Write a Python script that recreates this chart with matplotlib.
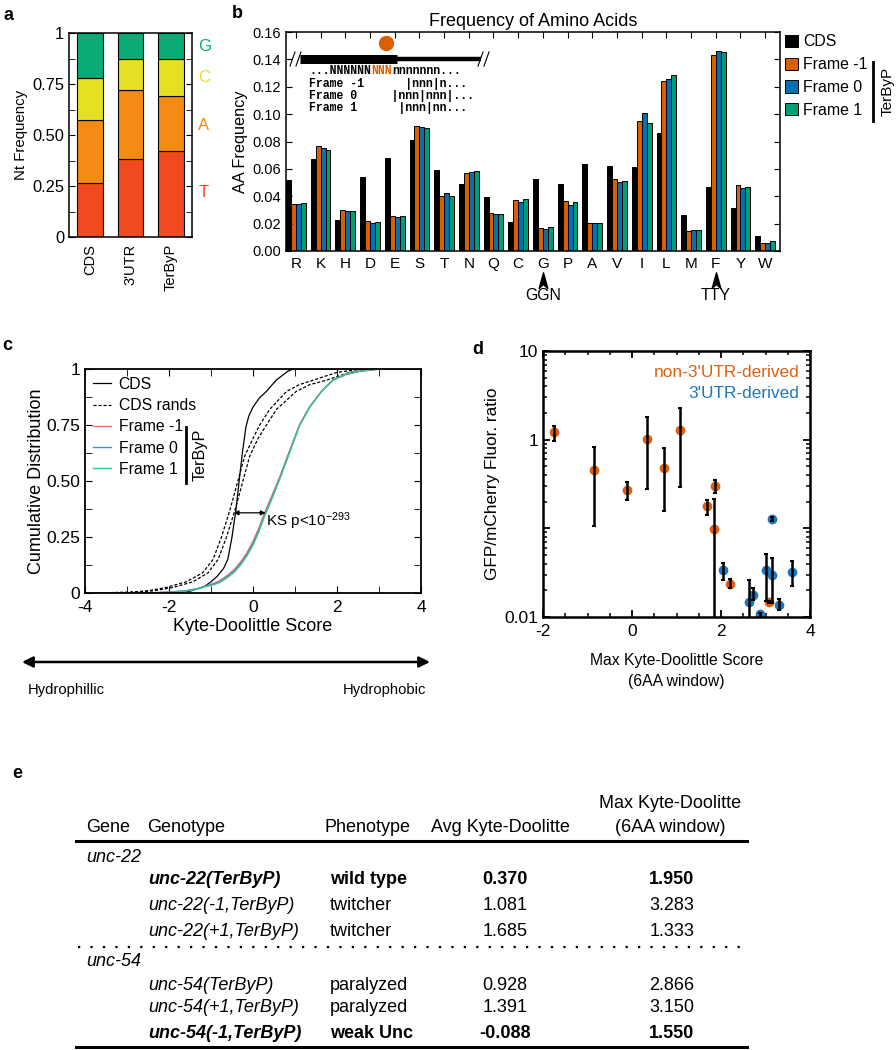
import matplotlib.pyplot as plt
import numpy as np
from matplotlib.lines import Line2D
from matplotlib.patches import Patch
from matplotlib.path import Path
from matplotlib.ticker import MultipleLocator, FixedLocator, NullFormatter, LogLocator, FuncFormatter

plt.rcParams['font.family'] = ['Liberation Sans', 'DejaVu Sans']
plt.rcParams['axes.unicode_minus'] = False
plt.rcParams['mathtext.fontset'] = 'custom'
plt.rcParams['mathtext.rm'] = 'Liberation Sans'
plt.rcParams['mathtext.default'] = 'rm'

# ---- panel a: nucleotide composition
nt_groups = ['CDS', "3'UTR", 'TerByP']
nt_T = [0.265, 0.383, 0.420]
nt_A = [0.308, 0.337, 0.272]
nt_C = [0.204, 0.155, 0.180]
nt_G = [0.223, 0.125, 0.128]

# ---- panel b: amino acid frequencies
aa_labels = ['R', 'K', 'H', 'D', 'E', 'S', 'T', 'N', 'Q', 'C',
             'G', 'P', 'A', 'V', 'I', 'L', 'M', 'F', 'Y', 'W']
aa_cds = [0.0518, 0.0669, 0.0230, 0.0542, 0.0677, 0.0813, 0.0589, 0.0493, 0.0396, 0.0210,
          0.0523, 0.0487, 0.0634, 0.0624, 0.0612, 0.0859, 0.0262, 0.0470, 0.0316, 0.0110]
aa_fm1 = [0.0342, 0.0767, 0.0300, 0.0217, 0.0256, 0.0911, 0.0403, 0.0572, 0.0274, 0.0369,
          0.0169, 0.0365, 0.0206, 0.0529, 0.0950, 0.1243, 0.0144, 0.1429, 0.0480, 0.0061]
aa_f0 = [0.0342, 0.0750, 0.0290, 0.0203, 0.0247, 0.0906, 0.0423, 0.0574, 0.0271, 0.0357,
         0.0159, 0.0338, 0.0206, 0.0504, 0.1008, 0.1258, 0.0157, 0.1461, 0.0463, 0.0061]
aa_f1 = [0.0349, 0.0738, 0.0290, 0.0212, 0.0256, 0.0901, 0.0400, 0.0581, 0.0271, 0.0379,
         0.0176, 0.0355, 0.0206, 0.0511, 0.0935, 0.1287, 0.0152, 0.1456, 0.0468, 0.0073]

# ---- panel c: cumulative Kyte-Doolittle distributions
cds_kd_x = [-4.0, -2.5, -2.0, -1.5, -1.15, -1.0, -0.85, -0.7, -0.6, -0.5, -0.4, -0.33,
            -0.25, -0.17, -0.1, 0.0, 0.15, 0.32, 0.55, 0.83, 0.95, 4.0]
cds_kd_y = [0.0, 0.0, 0.001, 0.008, 0.03, 0.05, 0.075, 0.11, 0.15, 0.25, 0.38, 0.5,
            0.63, 0.74, 0.79, 0.83, 0.87, 0.9, 0.95, 0.99, 1.0, 1.0]
rand_kd_y = [0.0, 0.003, 0.01, 0.025, 0.05, 0.09, 0.15, 0.25, 0.37, 0.5, 0.61, 0.69,
             0.75, 0.82, 0.9, 0.93, 0.95, 0.985, 0.997, 1.0]
rand1_kd_x = [-4.0, -3.0, -2.5, -2.06, -1.59, -1.2, -0.95, -0.75, -0.55, -0.36, -0.2, 0.0,
              0.16, 0.4, 0.8, 1.1, 1.43, 2.0, 2.5, 3.0]
rand2_kd_x = [-4.0, -2.85, -2.35, -1.9, -1.43, -1.07, -0.83, -0.63, -0.43, -0.24, -0.08, 0.12,
              0.32, 0.56, 1.03, 1.35, 1.75, 2.3, 2.8, 3.2]
frame_kd_x = [-4.0, -2.5, -2.0, -1.6, -1.3, -1.15, -0.95, -0.8, -0.6, -0.44, -0.3, -0.15, 0.0,
              0.14, 0.28, 0.45, 0.63, 0.85, 1.11, 1.35, 1.63, 1.9, 2.2, 2.54, 3.0, 4.0]
fm1_kd_y = [0.0, 0.0, 0.004, 0.01, 0.02, 0.03, 0.042, 0.054, 0.08, 0.106, 0.137, 0.178, 0.23,
            0.29, 0.36, 0.435, 0.515, 0.625, 0.752, 0.832, 0.9, 0.95, 0.975, 0.99, 1.0, 1.0]
f0_kd_y = [0.0, 0.0, 0.004, 0.01, 0.02, 0.03, 0.04, 0.05, 0.075, 0.1, 0.13, 0.17, 0.22,
           0.28, 0.35, 0.425, 0.51, 0.62, 0.75, 0.83, 0.9, 0.95, 0.975, 0.99, 1.0, 1.0]
f1_kd_y = [0.0, 0.0, 0.003, 0.009, 0.018, 0.027, 0.036, 0.046, 0.07, 0.094, 0.124, 0.164, 0.213,
           0.274, 0.345, 0.42, 0.505, 0.615, 0.748, 0.83, 0.9, 0.952, 0.977, 0.99, 1.0, 1.0]

# ---- panel d: reporter ratios
non3_x = [-1.75, -0.86, -0.12, 0.33, 0.71, 1.07, 1.69, 1.86, 1.84, 2.20, 3.08]
non3_y = [1.21, 0.45, 0.27, 1.03, 0.48, 1.27, 0.179, 0.298, 0.099, 0.0235, 0.0148]
non3_hi = [1.44, 0.82, 0.33, 1.82, 0.80, 2.30, 0.21, 0.35, 0.212, 0.027, 0.0152]
non3_lo = [0.97, 0.106, 0.21, 0.28, 0.158, 0.29, 0.141, 0.25, 0.005, 0.021, 0.0144]
utr_x = [3.14, 2.04, 2.62, 2.72, 2.87, 3.00, 3.15, 3.30, 3.59]
utr_y = [0.127, 0.0336, 0.0148, 0.0179, 0.0108, 0.0336, 0.0295, 0.0137, 0.0325]
utr_hi = [0.135, 0.041, 0.026, 0.021, 0.0112, 0.052, 0.046, 0.016, 0.043]
utr_lo = [0.12, 0.026, 0.008, 0.0156, 0.0098, 0.015, 0.0144, 0.012, 0.0225]

# ---- panel e: table
genes = ['unc-22', 'unc-54']
genotypes = ['unc-22(TerByP)', 'unc-22(-1,TerByP)', 'unc-22(+1,TerByP)',
             'unc-54(TerByP)', 'unc-54(+1,TerByP)', 'unc-54(-1,TerByP)']
phenotypes = ['wild type', 'twitcher', 'twitcher', 'paralyzed', 'paralyzed', 'weak Unc']
avg_kd = [0.370, 1.081, 1.685, 0.928, 1.391, -0.088]
max_kd = [1.950, 3.283, 1.333, 2.866, 3.150, 1.550]
bold_rows = [0, 5]

W, H = 896, 1050
fig = plt.figure(figsize=(W / 100, H / 100), dpi=100)


def box(l, t, r, b):
    return [l / W, 1 - b / H, (r - l) / W, (b - t) / H]


# ================= a
ax = fig.add_axes(box(69, 33, 192, 237))
xa = np.arange(3)
nt_cols = ['#f04a1e', '#f58b15', '#e6e022', '#0aab77']
bottom = np.zeros(3)
for vals, col in zip([nt_T, nt_A, nt_C, nt_G], nt_cols):
    ax.bar(xa, vals, 0.64, bottom=bottom, color=col, edgecolor='black', lw=0.8)
    bottom += np.array(vals)
ax.set_xlim(-0.52, 2.52)
ax.set_ylim(0, 1)
ax.set_xticks(xa)
ax.set_xticklabels(nt_groups, rotation=90, fontsize=10.5)
ax.yaxis.set_major_locator(FixedLocator([0, 0.25, 0.5, 0.75, 1]))
ax.set_yticklabels(['0', '0.25', '0.50', '0.75', '1'])
ax.yaxis.set_minor_locator(MultipleLocator(0.125))
ax.tick_params(axis='y', which='both', direction='in', right=True, length=4, labelsize=11.8)
ax.tick_params(axis='x', length=0, pad=5)
ax.set_ylabel('Nt Frequency', fontsize=10.8, labelpad=3)
for s in ax.spines.values():
    s.set_linewidth(1.1)
for lab, yy, col in zip(['G', 'C', 'A', 'T'], [0.935, 0.78, 0.545, 0.22], nt_cols[::-1]):
    ax.text(1.05, yy, lab, transform=ax.get_yaxis_transform(), color=col,
            fontsize=12, va='center', ha='left')

# ================= b
ax = fig.add_axes(box(286, 32, 780, 251))
xb = np.arange(len(aa_labels))
b_cols = ['black', '#d95f02', '#0072b2', '#009e73']
b_names = ['CDS', 'Frame -1', 'Frame 0', 'Frame 1']
for k, (vals, col) in enumerate(zip([aa_cds, aa_fm1, aa_f0, aa_f1], b_cols)):
    ax.bar(xb + (k - 1.5) * 0.2, vals, 0.2, color=col, edgecolor='black', lw=0.7)
ax.set_xlim(-0.4, 19.6)
ax.set_ylim(0, 0.16)
ax.set_xticks(xb)
ax.set_xticklabels(aa_labels, fontsize=11)
ax.tick_params(axis='x', bottom=False, top=True, direction='in', length=4, pad=4)
ax.yaxis.set_major_locator(MultipleLocator(0.02))
ax.yaxis.set_major_formatter(FuncFormatter(lambda v, p: '%.2f' % v))
ax.tick_params(axis='y', direction='in', right=True, length=4, labelsize=10.5)
ax.set_ylabel('AA Frequency', fontsize=11.7, labelpad=3)
ax.set_title('Frequency of Amino Acids', fontsize=13, pad=4)
for s in ax.spines.values():
    s.set_linewidth(1.1)
handles = [Patch(facecolor=c, edgecolor='black', lw=0.7) for c in b_cols]
ax.legend(handles, b_names, loc='upper left', bbox_to_anchor=(1.01, 0.99), frameon=False,
          handlelength=0.8, handleheight=0.8, handletextpad=0.35, labelspacing=0.5,
          fontsize=11.4, borderaxespad=0, borderpad=0)


# inset schematic (axes fraction coords)
def fx(px):
    return (px - 286) / 494


def fy(py):
    return (251 - py) / 219


tr = ax.transAxes
ax.plot([fx(300), fx(397)], [fy(59), fy(59)], color='black', lw=6.5, transform=tr,
        solid_capstyle='butt')
ax.plot([fx(397), fx(481)], [fy(59), fy(59)], color='black', lw=3.2, transform=tr,
        solid_capstyle='butt')
for x0 in [290, 296, 478, 484]:
    ax.plot([fx(x0), fx(x0 + 5)], [fy(66), fy(52)], color='black', lw=0.8, transform=tr)
ax.plot([fx(386)], [fy(43)], 'o', color='#d95f02', ms=10, transform=tr)
mono = dict(family='Liberation Mono', fontsize=8.3, fontweight='bold', transform=tr,
            va='center', ha='left')
cw = 0.6 * 8.3 * 100 / 72  # monospace advance in px
ax.text(fx(309), fy(71), '...NNNNNN', color='black', **mono)
ax.text(fx(309 + 9 * cw), fy(71), 'NNN', color='#d95f02', **mono)
ax.text(fx(309 + 12 * cw), fy(71), 'nnnnnnn...', color='black', **mono)
ax.text(fx(309), fy(84), 'Frame -1      |nnn|n...', color='black', **mono)
ax.text(fx(309), fy(96), 'Frame 0     |nnn|nnn|...', color='black', **mono)
ax.text(fx(309), fy(108), 'Frame 1      |nnn|nn...', color='black', **mono)

# codon arrows under G and F
arrow_path = Path([(0, 1), (0.5, -0.8), (0, -0.35), (-0.5, -0.8), (0, 1)],
                  [Path.MOVETO, Path.LINETO, Path.LINETO, Path.LINETO, Path.CLOSEPOLY])
xt = ax.get_xaxis_transform()
for idx, lab in [(aa_labels.index('G'), 'GGN'), (aa_labels.index('F'), 'TTY')]:
    ax.plot([idx], [fy(281)], marker=arrow_path, ms=12.5, color='black', transform=xt,
            clip_on=False)
    ax.text(idx, fy(295), lab, transform=xt, ha='center', va='center', fontsize=11.4)

# ================= c
ax = fig.add_axes(box(85, 369, 421, 593))
ax.plot(cds_kd_x, cds_kd_y, color='black', lw=0.9)
ax.plot(rand1_kd_x, rand_kd_y, color='black', lw=0.9, ls=(0, (2.5, 1.5)))
ax.plot(rand2_kd_x, rand_kd_y, color='black', lw=0.9, ls=(0, (2.5, 1.5)))
ax.plot(frame_kd_x, fm1_kd_y, color='#f2695a', lw=1.0)
ax.plot(frame_kd_x, f0_kd_y, color='#3f8fdc', lw=1.0)
ax.plot(frame_kd_x, f1_kd_y, color='#40c08e', lw=1.0)
ax.set_xlim(-4, 4)
ax.set_ylim(0, 1)
ax.xaxis.set_major_locator(MultipleLocator(2))
ax.xaxis.set_minor_locator(MultipleLocator(1))
ax.yaxis.set_major_locator(FixedLocator([0, 0.25, 0.5, 0.75, 1]))
ax.set_yticklabels(['0', '0.25', '0.50', '0.75', '1'])
ax.yaxis.set_minor_locator(MultipleLocator(0.125))
ax.tick_params(which='both', direction='in', top=True, right=True, length=5, labelsize=12.5)
ax.tick_params(axis='x', pad=5)
ax.set_xlabel('Kyte-Doolittle Score', fontsize=13, labelpad=2)
ax.set_ylabel('Cumulative Distribution', fontsize=13, labelpad=1)
for s in ax.spines.values():
    s.set_linewidth(1.3)
c_handles = [Line2D([], [], color='black', lw=0.9),
             Line2D([], [], color='black', lw=0.9, ls=(0, (2.5, 1.5))),
             Line2D([], [], color='#f2695a', lw=1.0),
             Line2D([], [], color='#3f8fdc', lw=1.0),
             Line2D([], [], color='#40c08e', lw=1.0)]
ax.legend(c_handles, ['CDS', 'CDS rands', 'Frame -1', 'Frame 0', 'Frame 1'],
          loc='upper left', bbox_to_anchor=(0.025, 0.965), frameon=False, fontsize=11.3,
          handlelength=1.1, handletextpad=0.5, labelspacing=0.4, borderaxespad=0,
          borderpad=0)
ax.annotate('', xy=(-0.46, 0.358), xytext=(0.3, 0.358),
            arrowprops=dict(arrowstyle='<|-|>', lw=0.9, color='black', mutation_scale=7,
                            shrinkA=0, shrinkB=0))
ax.text(0.31, 0.32, 'KS p<10$^{-293}$', fontsize=11, ha='left', va='center')

# ================= d
ax = fig.add_axes(box(543, 351, 810, 617))
ax.plot(non3_x, non3_y, 'o', color='#dd6111', ms=6, zorder=2)
ax.plot(utr_x, utr_y, 'o', color='#1f78be', ms=6, zorder=2)
for xs, ys, lo, hi in [(non3_x, non3_y, non3_lo, non3_hi), (utr_x, utr_y, utr_lo, utr_hi)]:
    ys = np.array(ys)
    err = [ys - np.array(lo), np.array(hi) - ys]
    ax.errorbar(xs, ys, yerr=err, fmt='none', ecolor='black', elinewidth=1.8, capsize=1.5,
                capthick=1.5, zorder=3)
ax.set_yscale('log')
ax.set_xlim(-2, 4)
ax.set_ylim(0.01, 10)
ax.set_xticks([-2, 0, 2, 4])
ax.xaxis.set_minor_locator(MultipleLocator(0.5))
ax.set_yticks([0.01, 0.1, 1, 10])
ax.set_yticklabels(['0.01', '', '1', '10'])
ax.yaxis.set_minor_locator(LogLocator(base=10, subs=np.arange(2, 10)))
ax.yaxis.set_minor_formatter(NullFormatter())
ax.tick_params(which='major', direction='in', top=True, right=True, length=5, width=1.3,
               labelsize=12.5)
ax.tick_params(which='minor', direction='in', top=True, right=True, length=3, width=1.1)
ax.tick_params(axis='x', pad=5)
ax.set_ylabel('GFP/mCherry Fluor. ratio', fontsize=12.4, labelpad=3)
ax.set_xlabel('Max Kyte-Doolittle Score\n(6AA window)', fontsize=11.3, labelpad=10,
              linespacing=1.5)
for s in ax.spines.values():
    s.set_linewidth(1.8)
ax.text(0.96, 0.92, "non-3'UTR-derived", color='#dd6111', transform=ax.transAxes,
        ha='right', va='center', fontsize=12.4)
ax.text(0.96, 0.84, "3'UTR-derived", color='#1f78be', transform=ax.transAxes,
        ha='right', va='center', fontsize=12.4)

# ================= overlay in pixel coords
ov = fig.add_axes([0, 0, 1, 1])
ov.set_xlim(0, W)
ov.set_ylim(H, 0)
ov.axis('off')
ov.patch.set_alpha(0)

for lab, px, py in [('a', 3, 15), ('b', 232, 14), ('c', 2, 345), ('d', 472, 350),
                    ('e', 12, 773)]:
    ov.text(px, py, lab, fontsize=13, fontweight='bold', ha='left', va='center')

# TerByP brackets
ov.plot([873, 873], [62, 121], color='black', lw=2)
ov.text(888, 91, 'TerByP', rotation=90, ha='center', va='center', fontsize=11)
ov.plot([186, 186], [427, 483], color='black', lw=2)
ov.text(200, 455, 'TerByP', rotation=90, ha='center', va='center', fontsize=11.6)

# hydrophobicity arrow
ov.annotate('', xy=(22, 662), xytext=(430, 662),
            arrowprops=dict(arrowstyle='<|-|>', lw=1.8, color='black', mutation_scale=16,
                            shrinkA=0, shrinkB=0))
ov.text(28, 690, 'Hydrophillic', fontsize=10.6, ha='left', va='center')
ov.text(426, 690, 'Hydrophobic', fontsize=10.6, ha='right', va='center')

# ================= e: table
fs = 13
ov.text(86, 827, 'Gene', fontsize=fs, va='center')
ov.text(147, 827, 'Genotype', fontsize=fs, va='center')
ov.text(325, 827, 'Phenotype', fontsize=fs, va='center')
ov.text(500, 827, 'Avg Kyte-Doolitte', fontsize=fs, va='center', ha='center')
ov.text(670, 803, 'Max Kyte-Doolitte', fontsize=fs, va='center', ha='center')
ov.text(670, 827, '(6AA window)', fontsize=fs, va='center', ha='center')
ov.plot([76, 747], [841, 841], color='black', lw=2.2)
ov.plot([78, 748], [947, 947], color='black', lw=1.6, ls=(0, (1, 4.6)))
ov.plot([76, 747], [1047, 1047], color='black', lw=2.2)
ov.text(86, 857, genes[0], fontsize=fs, style='italic', va='center')
ov.text(86, 961, genes[1], fontsize=fs, style='italic', va='center')
row_y = [880, 905, 931, 985, 1008, 1033]
for i, yy in enumerate(row_y):
    wt = 'bold' if i in bold_rows else 'normal'
    ov.text(148, yy, genotypes[i], fontsize=fs, style='italic', fontweight=wt, va='center')
    ov.text(330, yy, phenotypes[i], fontsize=fs, fontweight=wt, va='center')
    ov.text(505, yy, '%.3f' % avg_kd[i], fontsize=fs, fontweight=wt, va='center',
            ha='center')
    ov.text(672, yy, '%.3f' % max_kd[i], fontsize=fs, fontweight=wt, va='center',
            ha='center')

fig.savefig('out.png', dpi=100)
